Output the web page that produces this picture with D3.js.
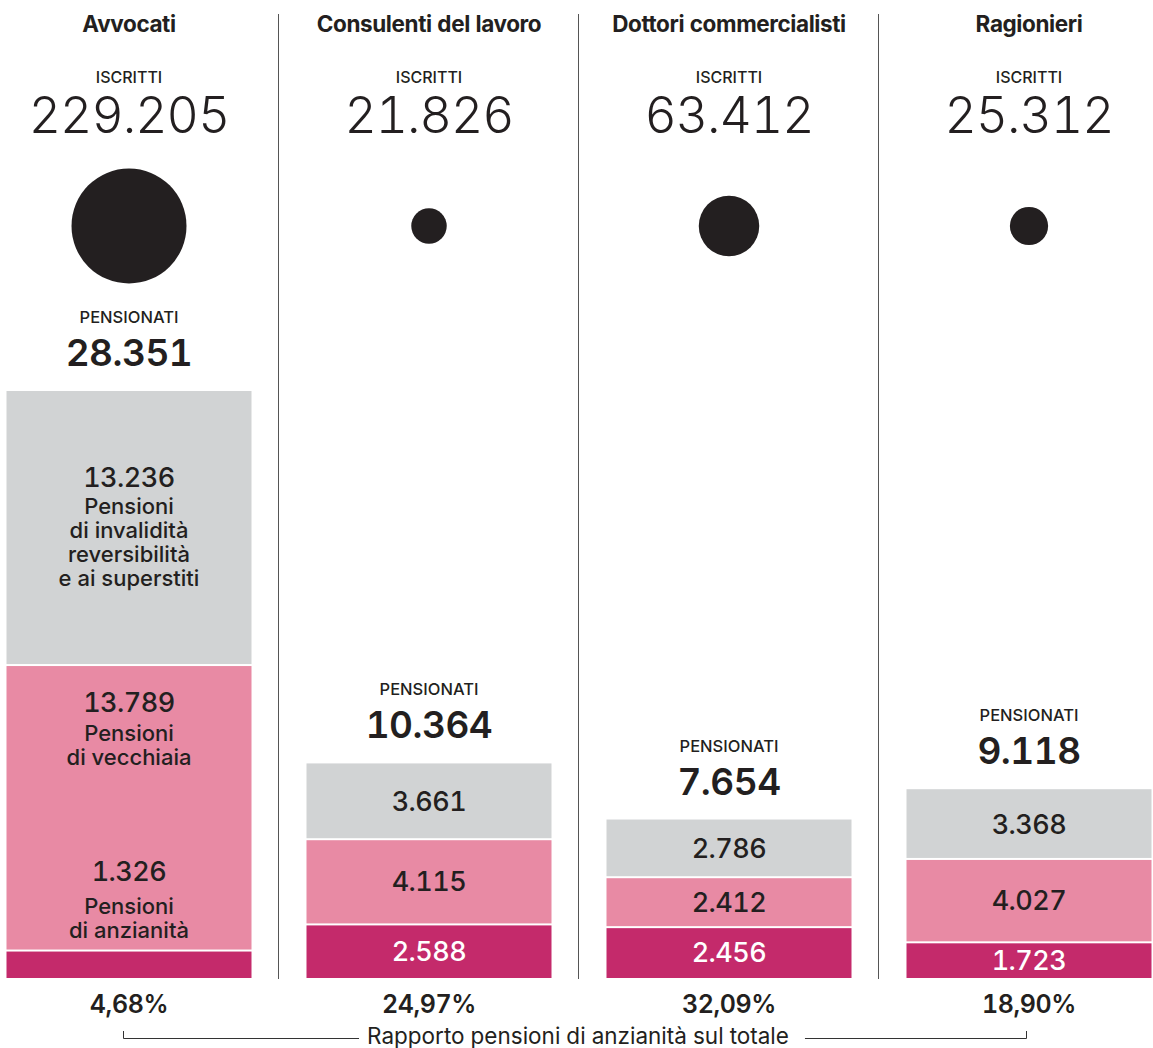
<!DOCTYPE html>
<html><head><meta charset="utf-8">
<script src="https://cdn.jsdelivr.net/npm/d3@7"></script>
<style>
html,body{margin:0;padding:0;background:#fff;}
svg{display:block;font-family:Inter,"Noto Sans",sans-serif;font-variant-numeric:tabular-nums;}
</style></head>
<body>
<svg id="chart" width="1153" height="1048"></svg>
<script>
const categories = ["Avvocati","Consulenti del lavoro","Dottori commercialisti","Ragionieri"];
const iscritti   = [229205, 21826, 63412, 25312];
const pensionati = [28351, 10364, 7654, 9118];
const anzianita  = [1326, 2588, 2456, 1723];
const vecchiaia  = [13789, 4115, 2412, 4027];
const invalidita = [13236, 3661, 2786, 3368];
const segmentNames = [["Pensioni","di anzianità"],["Pensioni","di vecchiaia"],["Pensioni","di invalidità","reversibilità","e ai superstiti"]];
const footerLabel = "Rapporto pensioni di anzianità sul totale";

const ink = "#231f20";
const colors = ["#c42a6b","#e88aa4","#d1d3d4"];
const it = d3.formatLocale({decimal:",",thousands:".",grouping:[3],currency:["","€"]});
const fmt = it.format(",d");
const pct = it.format(".2f");

const svg = d3.select("#chart");
const x = d3.scalePoint().domain(categories).range([129, 1029]);
const barW = 245;
const y = d3.scaleLinear().domain([0, d3.max(pensionati)]).range([978, 391]);
const r = d3.scaleSqrt().domain([0, d3.max(iscritti)]).range([0, 57.5]);

const cs = categories.map(c=>x(c));
for (let i=0;i<cs.length-1;i++){
  const sx = Math.round((cs[i]+cs[i+1])/2)-0.5;
  svg.append("line").attr("x1",sx).attr("x2",sx).attr("y1",14).attr("y2",979)
    .attr("stroke","#555").attr("stroke-width",1);
}

categories.forEach((c,i)=>{
  const cx = x(c);
  const g = svg.append("g");
  g.append("text").attr("x",cx).attr("y",32).attr("text-anchor","middle")
    .attr("font-size",22.5).attr("font-weight",700).attr("fill",ink).attr("letter-spacing","-0.4").text(c);
  g.append("text").attr("x",cx).attr("y",83).attr("text-anchor","middle")
    .attr("font-size",16).attr("font-weight",500).attr("fill",ink).text("ISCRITTI");
  g.append("text").attr("x",cx).attr("y",133).attr("text-anchor","middle")
    .attr("font-size",50).attr("font-weight",300).attr("fill",ink).attr("letter-spacing","-1").text(fmt(iscritti[i]));
  g.append("circle").attr("cx",cx).attr("cy",226).attr("r",r(iscritti[i])).attr("fill",ink);

  const top = y(pensionati[i]);
  g.append("text").attr("x",cx).attr("y",top-68).attr("text-anchor","middle")
    .attr("font-size",16.5).attr("font-weight",500).attr("fill",ink).text("PENSIONATI");
  g.append("text").attr("x",cx).attr("y",top-25).attr("text-anchor","middle")
    .attr("font-size",37).attr("font-weight",600).attr("fill",ink).attr("letter-spacing","-0.5").text(fmt(pensionati[i]));

  const vals = [anzianita[i], vecchiaia[i], invalidita[i]];
  let cum = 0;
  const segs = vals.map((v,k)=>{const s={k,v,y0:cum,y1:cum+v}; cum+=v; return s;});
  const bx = cx - barW/2;
  g.selectAll("rect.seg").data(segs).join("rect")
    .attr("x",bx).attr("width",barW)
    .attr("y",d=>y(d.y1)+(d.k<2?1:0))
    .attr("height",d=>y(d.y0)-y(d.y1)-(d.k<2?1:0)-(d.k>0?1:0))
    .attr("fill",d=>colors[d.k]);

  segs.forEach(s=>{
    const yt = y(s.y1), yb = y(s.y0);
    const fill = s.k===0 ? "#fff" : ink;
    if (i===0){
      const names = segmentNames[s.k];
      let ny, gap;
      if (s.k===2){ gap=28; const hgt = gap + 24*(names.length-1); ny = (yt+yb)/2 - hgt/2; }
      else if (s.k===1){ gap=30; ny = yt+38; }
      else { gap=35; ny = yt - 20 - 24*(names.length-1) - gap; }
      g.append("text").attr("x",cx).attr("y",ny).attr("dy","0.35em").attr("text-anchor","middle")
        .attr("font-size",27).attr("font-weight",500).attr("fill",ink).attr("letter-spacing","-0.5").text(fmt(s.v));
      names.forEach((n,j)=>{
        g.append("text").attr("x",cx).attr("y",ny+gap+24*j).attr("dy","0.35em").attr("text-anchor","middle")
          .attr("font-size",22).attr("font-weight",500).attr("fill",ink).text(n);
      });
    } else {
      g.append("text").attr("x",cx).attr("y",(yt+yb)/2).attr("dy","0.35em").attr("text-anchor","middle")
        .attr("font-size",27).attr("font-weight",500).attr("fill",fill).attr("letter-spacing","-0.5").text(fmt(s.v));
    }
  });

  g.append("text").attr("x",cx).attr("y",1004).attr("dy","0.35em").attr("text-anchor","middle")
    .attr("font-size",25).attr("font-weight",600).attr("fill",ink).attr("letter-spacing","-0.4")
    .text(pct(anzianita[i]/pensionati[i]*100)+"%");
});

const x0 = 123.5, x1 = 1026.5, by = 1038.5;
const ft = svg.append("text").attr("x",578).attr("y",1036).attr("dy","0.35em").attr("text-anchor","middle")
  .attr("font-size",22.5).attr("font-weight",400).attr("fill",ink).text(footerLabel);
const bb = ft.node().getBBox();
svg.append("path").attr("fill","none").attr("stroke","#333").attr("stroke-width",1)
  .attr("d",`M${x0},1031V${by}H${bb.x-8}M${bb.x+bb.width+16},${by}H${x1}V1031`);
</script>
</body></html>
